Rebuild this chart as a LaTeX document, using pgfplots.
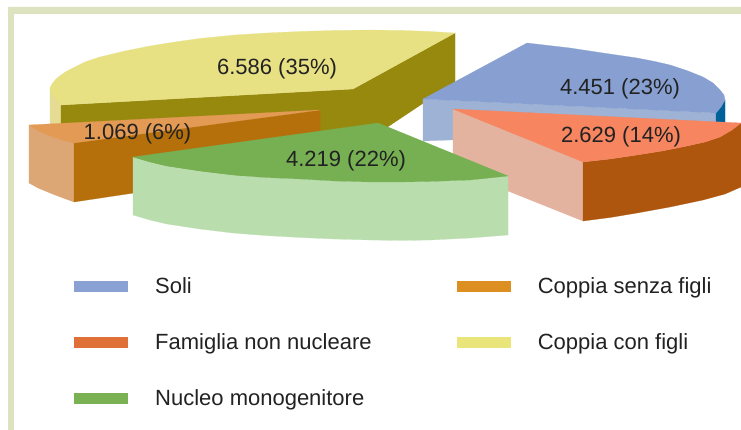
\documentclass[border=0pt]{standalone}
\usepackage{fontspec}
\setmainfont{Liberation Sans}
\usepackage{pgfplots}
\pgfplotsset{compat=1.18}
\definecolor{frame}{HTML}{DDE3BF}
\definecolor{txt}{HTML}{222222}
% yellow slice
\definecolor{ytop}{HTML}{E7E184}
\definecolor{yrim}{HTML}{E5DB92}
\definecolor{ydark}{HTML}{96890E}
% blue slice
\definecolor{btop}{HTML}{87A0D1}
\definecolor{bside}{HTML}{9DB2D4}
\definecolor{bdark}{HTML}{00609A}
% orange slice
\definecolor{otop}{HTML}{E39A54}
\definecolor{oside}{HTML}{DDA675}
\definecolor{odark}{HTML}{B56F0B}
% salmon slice
\definecolor{stop}{HTML}{F68560}
\definecolor{sside}{HTML}{E3B3A0}
\definecolor{sdark}{HTML}{AF560E}
% green slice
\definecolor{gtop}{HTML}{76B052}
\definecolor{gside}{HTML}{BADDAE}
% legend swatches
\definecolor{lsoli}{HTML}{8AA2D3}
\definecolor{lsenza}{HTML}{DE8F22}
\definecolor{lfam}{HTML}{DE7038}
\definecolor{lcon}{HTML}{E9E57A}
\definecolor{lmono}{HTML}{7AB153}
\pgfplotsset{
  face/.style={fill=#1, draw=#1, line width=0.2pt, forget plot},
  swatch/.style={legend image code/.code={%
    \path[fill=#1, draw=none] (0pt,-5.5pt) rectangle (54pt,5.5pt);
    \path (79pt,0pt);}},
}
\begin{document}
\begin{tikzpicture}
\begin{axis}[
    scale only axis, width=741pt, height=430pt,
    xmin=0, xmax=741, ymin=0, ymax=430, y dir=reverse,
    hide axis, clip=true,
    legend style={at={(axis cs:74,275.5)}, anchor=north west, draw=none, fill=none,
      legend columns=2, font=\fontsize{22}{26}\selectfont, text=txt,
      inner sep=0pt, outer sep=0pt,
      /tikz/every even column/.append style={column sep=83pt},
      /tikz/row sep=34.6pt},
    legend cell align=left,
]
% page background, keeps the picture at full size
\addplot[face=white] coordinates {(0,0) (741,0) (741,430) (0,430)} --cycle;
% frame
\addplot[face=frame] coordinates {(8,430) (8,7) (741,7) (741,13) (13,13) (13,430)} --cycle;

% yellow
\addplot[face=yrim] coordinates {(50,88) (50,130) (61,130) (61,105)} --cycle;
\addplot[face=ydark] coordinates {(61,105) (353,89) (353,150) (61,150)} --cycle;
\addplot[face=ydark] coordinates {(353,89) (455,33) (455,82) (353,150)} --cycle;
\addplot[face=ytop] coordinates {(50,88) (52,84) (56,79) (61,75) (67,71) (75,67) (85,62) (100,57)
  (125,51) (150,46) (175,42) (200,38.5) (235,35) (267,33) (300,31.5) (333,30.5) (370,30) (403,30.5)
  (430,31.5) (455,33) (353,89) (61,105) (55,98) (51,93)} --cycle;

% blue
\addplot[face=bside] coordinates {(423,99) (716,113) (716,130) (423,141)} --cycle;
\addplot[face=bdark] coordinates {(716,113) (720,108) (725,100) (725,125) (716,125)} --cycle;
\addplot[face=btop] coordinates {(423,99) (527,43) (570,48) (603,53) (637,58) (655,61.5) (670,65)
  (688,71) (703,77) (713,83) (720,90) (724,95) (725,100) (721,107) (716,113)} --cycle;

% orange
\addplot[face=oside] coordinates {(29,125) (40,132) (55,138) (74,143) (74,202) (55,195) (38,188) (29,183)} --cycle;
\addplot[face=odark] coordinates {(74,143) (320,110) (320,165) (74,202)} --cycle;
\addplot[face=otop] coordinates {(29,125) (320,110) (74,143) (55,138) (40,132)} --cycle;

% salmon
\addplot[face=sside] coordinates {(453,109) (583,162) (583,221) (453,169)} --cycle;
\addplot[face=sdark] coordinates {(583,162) (610,159) (637,155) (662,151) (687,146) (705,142) (720,137)
  (732,130) (741,123) (741,187) (725,194) (703,200) (670,207) (637,213) (610,217.5) (583,221)} --cycle;
\addplot[face=stop] coordinates {(453,109) (741,123) (732,130) (720,137) (705,142) (687,146) (662,151)
  (637,155) (610,159) (583,162)} --cycle;

% green
\addplot[face=gside] coordinates {(133,157) (150,162) (167,166) (200,171) (233,175) (265,177.5) (300,179)
  (335,181) (370,182) (400,182) (430,181.5) (470,180) (508,176) (508,235) (470,238) (430,240) (403,240.5)
  (370,240) (335,239) (300,237.5) (265,235.5) (233,233) (200,229) (167,224) (150,220) (133,215)} --cycle;
\addplot[face=gtop] coordinates {(378,123) (508,176) (470,180) (430,181.5) (400,182) (370,182) (335,181)
  (300,179) (265,177.5) (233,175) (200,171) (167,166) (150,162) (133,157)} --cycle;

% legend
\addlegendimage{swatch=lsoli}
\addlegendentry{Soli}
\addlegendimage{swatch=lsenza}
\addlegendentry{Coppia senza figli}
\addlegendimage{swatch=lfam}
\addlegendentry{Famiglia non nucleare}
\addlegendimage{swatch=lcon}
\addlegendentry{Coppia con figli}
\addlegendimage{swatch=lmono}
\addlegendentry{Nucleo monogenitore}

% slice labels
\begin{scope}[every node/.style={font=\fontsize{22}{26}\selectfont, text=txt}]
\node at (axis cs:277,69) {6.586 (35\%)};
\node at (axis cs:620,88.5) {4.451 (23\%)};
\node at (axis cs:621,137) {2.629 (14\%)};
\node at (axis cs:137.5,134) {1.069 (6\%)};
\node at (axis cs:346,161) {4.219 (22\%)};
\end{scope}
\end{axis}
\end{tikzpicture}
\end{document}
